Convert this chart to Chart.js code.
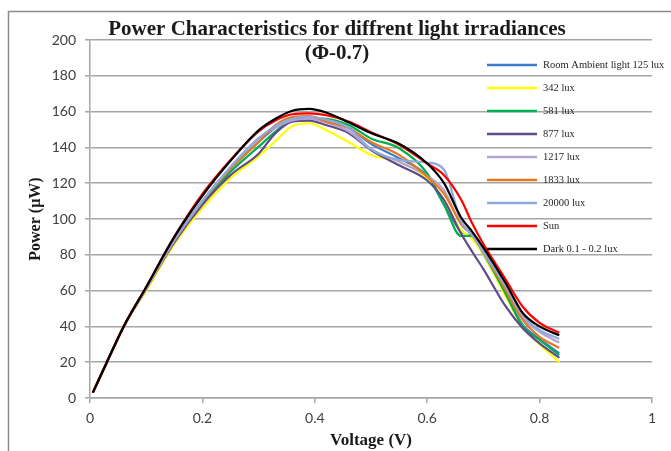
<!DOCTYPE html>
<html lang="en">
<head>
  <meta charset="UTF-8">
  <title>Power Characteristics</title>
  <script src="https://cdn.jsdelivr.net/npm/chart.js@4.4.0/dist/chart.umd.min.js"></script>
  <style>
    * { margin: 0; padding: 0; box-sizing: border-box; }
    body { background: #fff; width: 671px; height: 451px; overflow: hidden; }
    canvas { display: block; }
  </style>
</head>
<body>
  <canvas id="powerChart" width="671" height="451"></canvas>

  <script>
    // voltage (V), shared x values of every curve
    const voltage = [0.005, 0.03, 0.06, 0.1, 0.15, 0.2, 0.25, 0.3, 0.33, 0.36, 0.39, 0.42,
                     0.46, 0.5, 0.55, 0.6, 0.63, 0.66, 0.68, 0.7, 0.74, 0.77, 0.8, 0.835];

    // power (µW) per irradiance
    const room125  = [3, 20, 40, 61, 88, 110, 128, 143, 151, 156, 157, 155, 151, 142, 134, 124, 108, 93, 90, 80, 58, 41, 33, 25];
    const lux342   = [3, 20, 40, 60, 86, 106, 122.7, 135, 143.5, 152, 153.5, 149.7, 143, 135.8, 132, 122.7, 110.6, 93.9, 89, 80, 56.6, 40, 30, 20];
    const lux581   = [3, 20, 40, 61, 88, 109, 126.4, 140.4, 148.8, 155.7, 156.2, 156, 152.5, 145, 139.5, 125.5, 108, 90.5, 90.5, 81, 58, 40, 32.4, 24];
    const lux877   = [3, 20, 40, 61, 87, 108, 124.5, 136.5, 148, 154.4, 155, 152.5, 148, 138.5, 130, 121.5, 110.6, 92, 81.7, 72, 51, 39, 30.5, 22.5];
    const lux1217  = [3, 20, 40, 61, 88, 110, 129, 145, 151, 155, 156, 154, 149, 139, 132, 124, 116, 97, 91, 81, 61, 45, 37, 31];
    const lux1833  = [3, 20, 40, 61, 88, 110, 128, 143, 152.5, 157, 157.5, 154.4, 150.7, 143, 135.8, 123.6, 114, 97.6, 91, 82, 60, 43.6, 34.2, 28];
    const lux20000 = [3, 20, 40, 61, 88, 110, 129, 145, 152, 156, 157, 155.5, 151, 139, 133, 131.5, 127.5, 99, 91, 82, 62, 46, 38, 33];
    const sun      = [3, 20, 40, 62, 90, 114, 133, 149, 155, 158.5, 159, 158, 154.5, 148.5, 141.5, 131, 124.5, 111, 97.6, 86, 66, 51, 42, 36.5];
    const dark     = [3, 20, 40, 62, 90, 113, 132.5, 149.5, 156, 160.5, 161.5, 159.5, 154, 148, 142, 131, 120, 101, 93, 84, 64, 47.5, 40, 35];

    const seriesValues = [room125, lux342, lux581, lux877, lux1217, lux1833, lux20000, sun, dark];
    const seriesNames = ['Room Ambient light 125 lux', '342 lux', '581 lux', '877 lux', '1217 lux',
                         '1833 lux', '20000 lux', 'Sun', 'Dark 0.1 - 0.2 lux'];

    const xTicks = [0, 0.2, 0.4, 0.6, 0.8, 1];
    const xTickLabels = ['0', '0.2', '0.4', '0.6', '0.8', '1'];
    const yTicks = [0, 20, 40, 60, 80, 100, 120, 140, 160, 180, 200];

    const titleLines = ['Power Characteristics for diffrent light irradiances', '(\u03A6-0.7)'];

    const colors = ['#3d7cc9', '#ffff00', '#00b050', '#5f4a8b', '#b3a2d6', '#e8771e', '#8eaadb', '#ff0000', '#000000'];

    // frame, title and legend are drawn on top of the plot like in the original
    const chartDecor = {
      id: 'chartDecor',
      beforeDraw(chart) {
        const ctx = chart.ctx;
        ctx.save();
        ctx.strokeStyle = '#8c8c8c';
        ctx.lineWidth = 1.5;
        ctx.beginPath();
        ctx.moveTo(8.5, 451);
        ctx.lineTo(8.5, 11.5);
        ctx.lineTo(671, 11.5);
        ctx.stroke();
        ctx.restore();
      },
      afterDraw(chart) {
        const ctx = chart.ctx;
        ctx.save();
        ctx.fillStyle = '#1a1a1a';
        ctx.font = 'bold 21px "Liberation Serif"';
        ctx.textAlign = 'center';
        ctx.textBaseline = 'alphabetic';
        ctx.fillText(titleLines[0], 337, 35);
        ctx.fillText(titleLines[1], 337, 59);

        ctx.font = '10.5px "Liberation Serif"';
        ctx.textAlign = 'left';
        ctx.textBaseline = 'middle';
        chart.data.datasets.forEach((ds, i) => {
          const y = 65 + i * 23;
          ctx.strokeStyle = ds.borderColor;
          ctx.lineWidth = 2.5;
          ctx.beginPath();
          ctx.moveTo(487, y);
          ctx.lineTo(537, y);
          ctx.stroke();
          ctx.fillStyle = '#262626';
          ctx.fillText(ds.label, 543, y);
        });
        ctx.restore();
      }
    };

    const ctx = document.getElementById('powerChart').getContext('2d');
    new Chart(ctx, {
      type: 'line',
      data: {
        datasets: seriesNames.map((name, i) => ({
          label: name,
          data: voltage.map((v, k) => ({ x: v, y: seriesValues[i][k] })),
          borderColor: colors[i],
          backgroundColor: colors[i],
          borderWidth: 2.2,
          pointRadius: 0,
          cubicInterpolationMode: 'monotone',
          order: seriesNames.length - i
        }))
      },
      options: {
        responsive: false,
        animation: false,
        layout: { padding: { left: 8, top: 40, right: 19, bottom: 0 } },
        plugins: {
          legend: { display: false },
          tooltip: { enabled: false }
        },
        scales: {
          x: {
            type: 'linear',
            min: 0,
            max: 1,
            afterBuildTicks: s => { s.ticks = xTicks.map(v => ({ value: v })); },
            afterFit: s => { s.height = 53; },
            grid: { drawOnChartArea: false, drawTicks: true, tickLength: 5, color: '#a6a6a6', lineWidth: 1.5 },
            border: { color: '#a6a6a6', width: 1.5 },
            ticks: {
              autoSkip: false,
              maxRotation: 0,
              padding: 7,
              color: '#404040',
              font: { family: 'Lato', size: 14 },
              callback: (v, i) => xTickLabels[i]
            },
            title: {
              display: true,
              text: 'Voltage (V)',
              color: '#1a1a1a',
              font: { family: 'Liberation Serif', size: 17, weight: 'bold' },
              padding: { top: 0, bottom: 0 }
            }
          },
          y: {
            min: 0,
            max: 200,
            afterBuildTicks: s => { s.ticks = yTicks.map(v => ({ value: v })); },
            afterFit: s => { s.width = 82; },
            grid: { color: '#a6a6a6', lineWidth: 1.5, tickLength: 5 },
            border: { color: '#a6a6a6', width: 1.5 },
            ticks: {
              autoSkip: false,
              padding: 9,
              color: '#404040',
              font: { family: 'Lato', size: 14 }
            },
            title: {
              display: true,
              text: 'Power (\u00B5W)',
              color: '#1a1a1a',
              font: { family: 'Liberation Serif', size: 16, weight: 'bold' },
              padding: { top: 18, bottom: 0 }
            }
          }
        }
      },
      plugins: [chartDecor]
    });
  </script>
</body>
</html>
